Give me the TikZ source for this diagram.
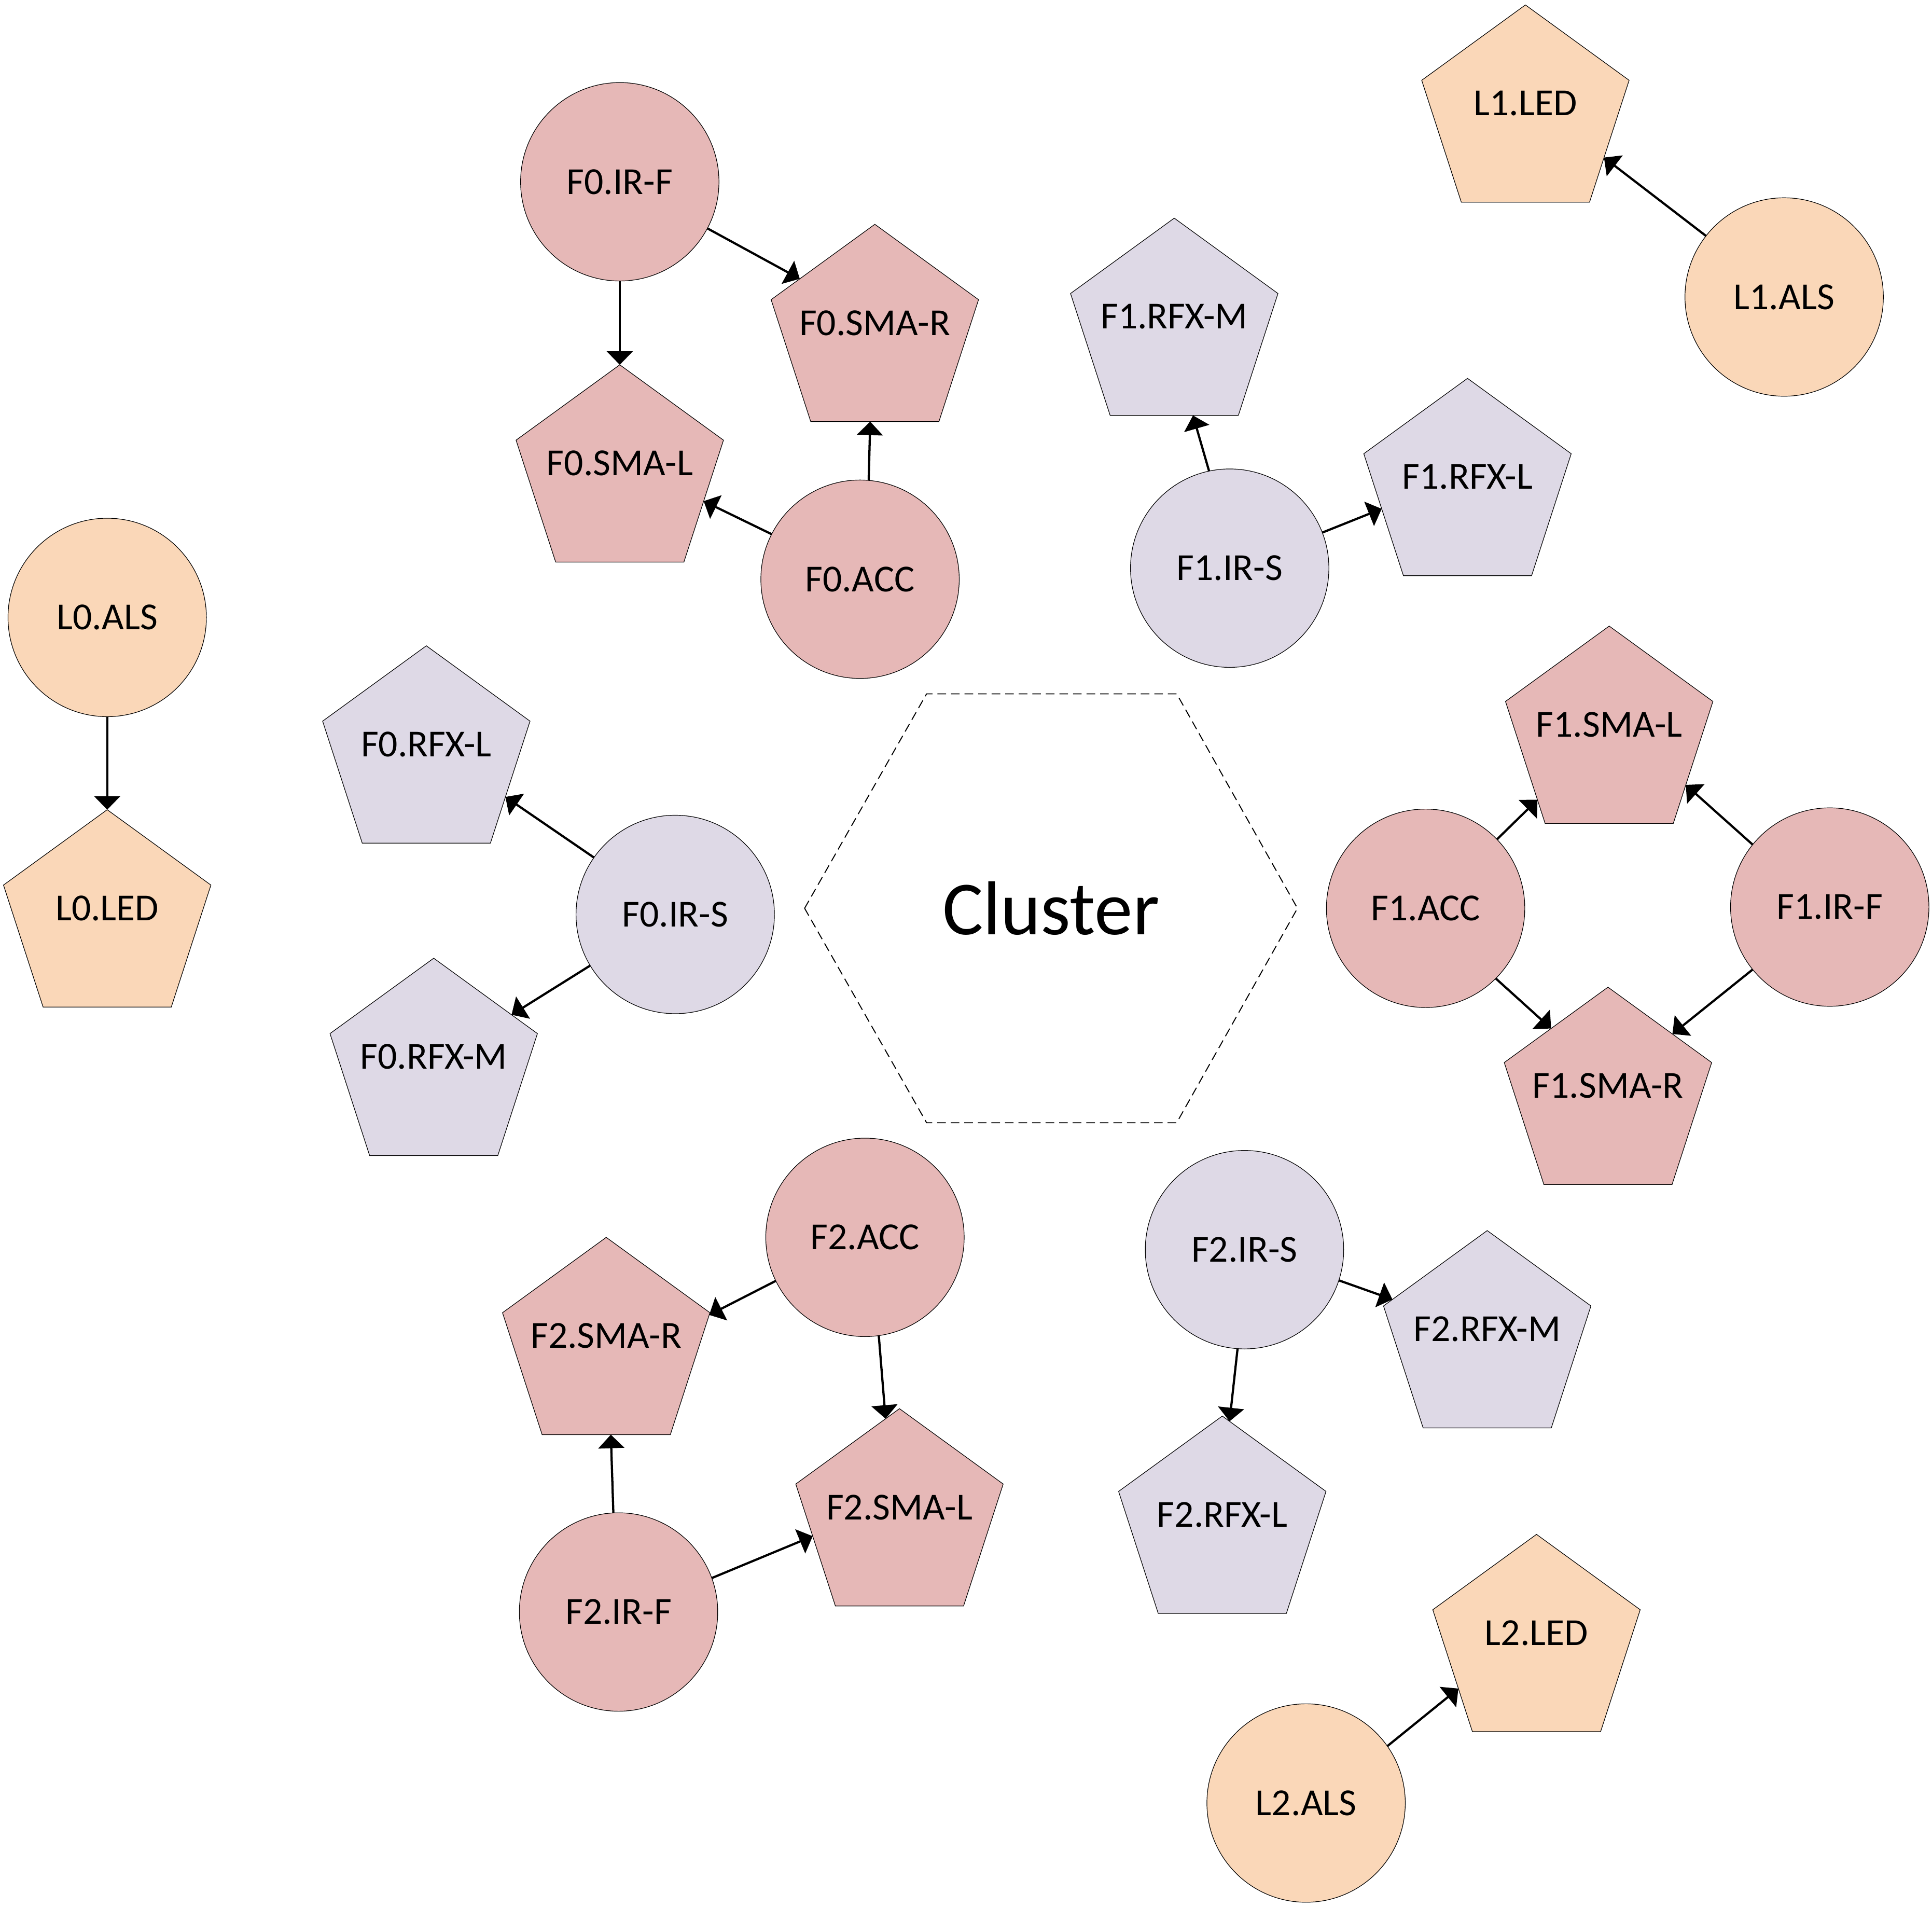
\documentclass[tikz,border=0pt]{standalone}
\usepackage{fontspec}
\setmainfont{Carlito}
\usetikzlibrary{shapes.geometric,arrows.meta}
\definecolor{pinkfill}{HTML}{E6B8B7}
\definecolor{lavfill}{HTML}{DED9E6}
\definecolor{peachfill}{HTML}{FAD7B8}
\begin{document}
\begin{tikzpicture}[x=1pt,y=-1pt,
  circ/.style={circle,draw=black,line width=0.5pt,minimum size=161pt,inner sep=0pt,outer sep=0pt,font=\fontsize{31}{37}\selectfont},
  pent/.style={regular polygon,regular polygon sides=5,draw=black,line width=0.5pt,minimum size=177pt,inner sep=0pt,outer sep=0pt},
  ptext/.style={label={[font=\fontsize{31}{37}\selectfont,yshift=8.5pt]center:#1}},
  conn/.style={line width=1.8pt,-{Triangle[length=11pt,width=21pt]}},
  pk/.style={fill=pinkfill}, lv/.style={fill=lavfill}, pc/.style={fill=peachfill}]
\path[use as bounding box,fill=white] (0,0) rectangle (1568,1547);

% hexagon
\draw[line width=0.8pt,dash pattern=on 7pt off 4pt] (653,737) -- (752,563) -- (955,563) -- (1053,737) -- (955,911) -- (752,911) -- cycle;
\node[font=\fontsize{62}{70}\selectfont] (cluster) at (853,737) {Cluster};

% circles
\node[circ,pk] (f0irf) at (503,147.5) {F0.IR-F};
\node[circ,pk] (f0acc) at (698,470) {F0.ACC};
\node[circ,lv] (f1irs) at (998,461) {F1.IR-S};
\node[circ,pc] (l1als) at (1448,241) {L1.ALS};
\node[circ,pc] (l0als) at (87,501) {L0.ALS};
\node[circ,lv] (f0irs) at (548,742) {F0.IR-S};
\node[circ,pk] (f1acc) at (1157,737) {F1.ACC};
\node[circ,pk] (f1irf) at (1485,736) {F1.IR-F};
\node[circ,pk] (f2acc) at (702,1004) {F2.ACC};
\node[circ,lv] (f2irs) at (1010,1014) {F2.IR-S};
\node[circ,pk] (f2irf) at (502,1308) {F2.IR-F};
\node[circ,pc] (l2als) at (1060,1463) {L2.ALS};

% pentagons (centre = top vertex + 88.5)
\node[pent,pc,ptext={L1.LED}] (l1led) at (1238,92.5) {};
\node[pent,pk,ptext={F0.SMA-R}] (f0smar) at (710,270.5) {};
\node[pent,lv,ptext={F1.RFX-M}] (f1rfxm) at (953,265.5) {};
\node[pent,pk,ptext={F0.SMA-L}] (f0smal) at (503,384.5) {};
\node[pent,lv,ptext={F1.RFX-L}] (f1rfxl) at (1191,395.5) {};
\node[pent,lv,ptext={F0.RFX-L}] (f0rfxl) at (346,612.5) {};
\node[pent,pc,ptext={L0.LED}] (l0led) at (87,745.5) {};
\node[pent,pk,ptext={F1.SMA-L}] (f1smal) at (1306,596.5) {};
\node[pent,lv,ptext={F0.RFX-M}] (f0rfxm) at (352,866) {};
\node[pent,pk,ptext={F1.SMA-R}] (f1smar) at (1305,889.5) {};
\node[pent,pk,ptext={F2.SMA-R}] (f2smar) at (492,1092.5) {};
\node[pent,lv,ptext={F2.RFX-M}] (f2rfxm) at (1207,1087) {};
\node[pent,pk,ptext={F2.SMA-L}] (f2smal) at (730,1231.5) {};
\node[pent,lv,ptext={F2.RFX-L}] (f2rfxl) at (992,1237.5) {};
\node[pent,pc,ptext={L2.LED}] (l2led) at (1247,1333.5) {};

% connectors
\draw[conn] (f0irf.-28.5) -- (f0smar.144.3);
\draw[conn] (f0irf.-90) -- (f0smal.90);
\draw[conn] (f0acc.85.7) -- (f0smar.-93.2);
\draw[conn] (f0acc.153.4) -- (f0smal.-18.3);
\draw[conn] (f1irs.102.7) -- (f1rfxm.-78.9);
\draw[conn] (f1irs.21.1) -- (f1rfxl.194.2);
\draw[conn] (l1als.142.1) -- (l1led.-29.8);
\draw[conn] (l0als.-90) -- (l0led.90);
\draw[conn] (f0irs.145.1) -- (f0rfxl.-28.3);
\draw[conn] (f0irs.211.7) -- (f0rfxm.34.2);
\draw[conn] (f1acc.44.5) -- (f1smal.222.1);
\draw[conn] (f1acc.-45) -- (f1smar.130.3);
\draw[conn] (f1irf.141) -- (f1smal.-33.8);
\draw[conn] (f1irf.219.5) -- (f1smar.44.2);
\draw[conn] (f2acc.206.3) -- (f2smar.17);
\draw[conn] (f2acc.-82.3) -- (f2smal.98.4);
\draw[conn] (f2irs.-18.7) -- (f2rfxm.157.1);
\draw[conn] (f2irs.-94.9) -- (f2rfxl.86);
\draw[conn] (f2irf.93.6) -- (f2smar.-87.6);
\draw[conn] (f2irf.20.5) -- (f2smal.192.7);
\draw[conn] (l2als.35.9) -- (l2led.210.5);
\end{tikzpicture}
\end{document}
